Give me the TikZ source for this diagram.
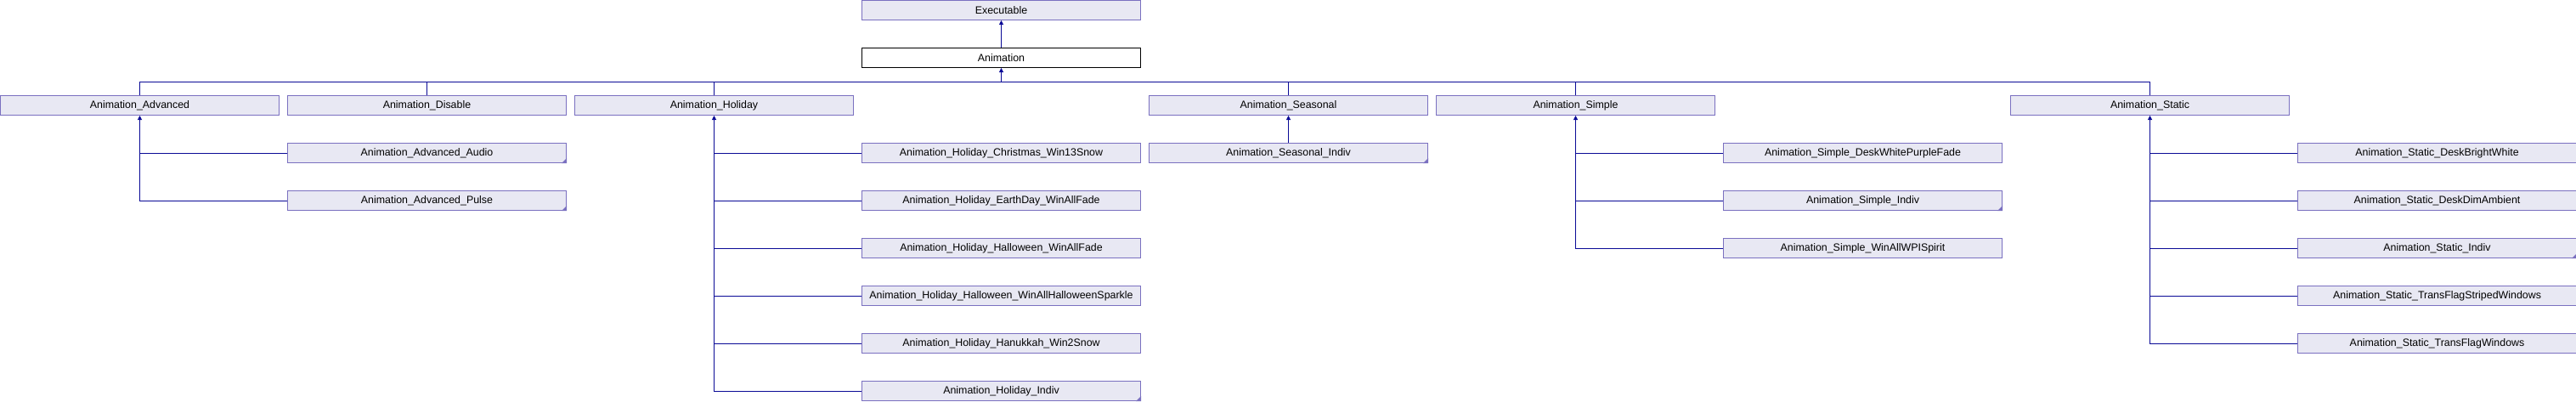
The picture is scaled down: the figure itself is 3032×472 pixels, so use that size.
\documentclass[tikz,border=0pt]{standalone}
\usepackage{fontspec}
\setmainfont{Liberation Sans}
\usetikzlibrary{arrows.meta}
\definecolor{boxfill}{RGB}{232,232,243}
\definecolor{boxline}{RGB}{122,112,192}
\definecolor{edgecol}{RGB}{10,10,150}
\tikzset{
  cls/.style={draw=boxline, fill=boxfill, line width=1pt, rectangle, inner sep=0pt,
    minimum width=328pt, minimum height=23pt, anchor=north west,
    font=\fontsize{12.4}{14}\selectfont, text=black},
  rootcls/.style={cls, draw=black, fill=white},
  edge/.style={draw=edgecol, line width=1pt},
  inh/.style={edge, {Triangle[length=5pt,width=5pt]}-},
  more/.style={fill=boxline}
}
\newcommand{\moremark}[1]{\fill[more] (#1.south east) -- ++(-6,0) -- ++(6,-6) -- cycle;}
\begin{document}
\begin{tikzpicture}[x=1pt,y=-1pt]
\useasboundingbox (0,0) rectangle (3032,472);
% level 0
\node[cls] (exec) at (1014,0) {Executable};
\node[rootcls] (anim) at (1014,56) {Animation};
% level 1
\node[cls] (adv) at (0,112) {Animation\_Advanced};
\node[cls] (dis) at (338,112) {Animation\_Disable};
\node[cls] (hol) at (676,112) {Animation\_Holiday};
\node[cls] (sea) at (1352,112) {Animation\_Seasonal};
\node[cls] (sim) at (1690,112) {Animation\_Simple};
\node[cls] (sta) at (2366,112) {Animation\_Static};
% level 2: advanced
\node[cls] (advaud) at (338,168) {Animation\_Advanced\_Audio};
\node[cls] (advpul) at (338,224) {Animation\_Advanced\_Pulse};
% holiday
\node[cls] (h1) at (1014,168) {Animation\_Holiday\_Christmas\_Win13Snow};
\node[cls] (h2) at (1014,224) {Animation\_Holiday\_EarthDay\_WinAllFade};
\node[cls] (h3) at (1014,280) {Animation\_Holiday\_Halloween\_WinAllFade};
\node[cls] (h4) at (1014,336) {Animation\_Holiday\_Halloween\_WinAllHalloweenSparkle};
\node[cls] (h5) at (1014,392) {Animation\_Holiday\_Hanukkah\_Win2Snow};
\node[cls] (h6) at (1014,448) {Animation\_Holiday\_Indiv};
% seasonal
\node[cls] (sea1) at (1352,168) {Animation\_Seasonal\_Indiv};
% simple
\node[cls] (s1) at (2028,168) {Animation\_Simple\_DeskWhitePurpleFade};
\node[cls] (s2) at (2028,224) {Animation\_Simple\_Indiv};
\node[cls] (s3) at (2028,280) {Animation\_Simple\_WinAllWPISpirit};
% static
\node[cls] (t1) at (2704,168) {Animation\_Static\_DeskBrightWhite};
\node[cls] (t2) at (2704,224) {Animation\_Static\_DeskDimAmbient};
\node[cls] (t3) at (2704,280) {Animation\_Static\_Indiv};
\node[cls] (t4) at (2704,336) {Animation\_Static\_TransFlagStripedWindows};
\node[cls] (t5) at (2704,392) {Animation\_Static\_TransFlagWindows};
% more markers
\moremark{advaud}
\moremark{advpul}
\moremark{h6}
\moremark{sea1}
\moremark{s2}
\moremark{t3}
% edges level 0
\draw[inh] (exec.south) -- (anim.north);
\coordinate (bus) at (0,96);
\draw[inh] (anim.south) -- (anim.south |- bus);
\draw[edge] (adv.north |- bus) -- (sta.north |- bus);
\foreach \n in {adv,dis,hol,sea,sim,sta} {\draw[edge] (\n.north |- bus) -- (\n.north);}
% advanced
\draw[inh] (adv.south) -- (adv.south |- advpul.west) -- (advpul.west);
\draw[edge] (adv.south |- advaud.west) -- (advaud.west);
% holiday
\draw[inh] (hol.south) -- (hol.south |- h6.west) -- (h6.west);
\foreach \n in {h1,h2,h3,h4,h5} {\draw[edge] (hol.south |- \n.west) -- (\n.west);}
% seasonal
\draw[inh] (sea.south) -- (sea1.north);
% simple
\draw[inh] (sim.south) -- (sim.south |- s3.west) -- (s3.west);
\foreach \n in {s1,s2} {\draw[edge] (sim.south |- \n.west) -- (\n.west);}
% static
\draw[inh] (sta.south) -- (sta.south |- t5.west) -- (t5.west);
\foreach \n in {t1,t2,t3,t4} {\draw[edge] (sta.south |- \n.west) -- (\n.west);}
\end{tikzpicture}
\end{document}
